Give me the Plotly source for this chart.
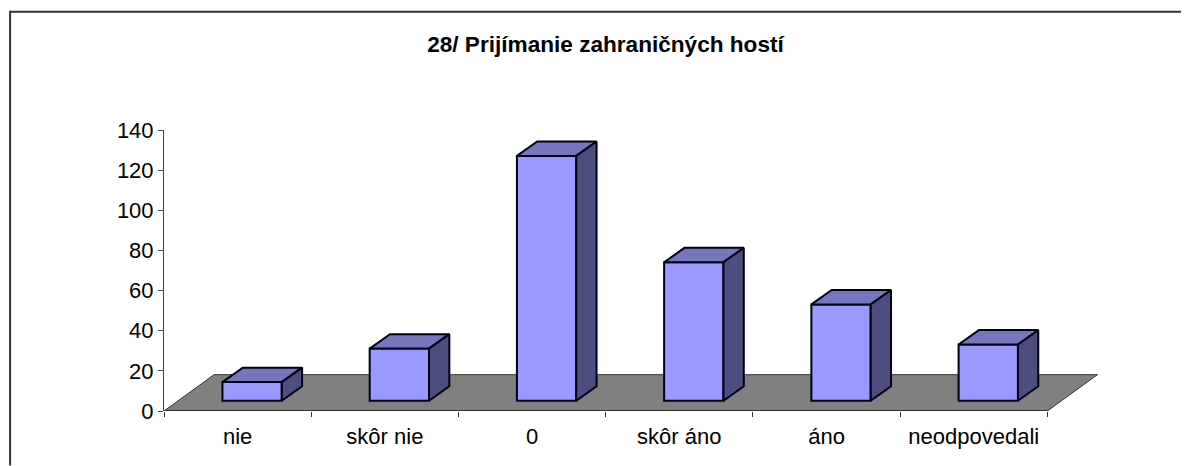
import plotly.graph_objects as go

categories = ["nie", "skôr nie", "0", "skôr áno", "áno", "neodpovedali"]
values = [9.3, 26, 122, 69, 48, 28]
y_ticks = [0, 20, 40, 60, 80, 100, 120, 140]
title = "28/ Prijímanie zahraničných hostí"

# the page body keeps an 8px margin, so everything is placed relative to (8, 8)
PAGE = 8
W, H = 1189 - PAGE, 466 - PAGE
LEFT, RIGHT, TOP, BOTTOM = 163.5 - PAGE, 1121.1 - PAGE, 130 - PAGE, 411.5 - PAGE
X_MAX = 6.5
Y_MAX = 140

FLOOR_DX, FLOOR_DY = 0.34, 18.1
BAR_LEFT, BAR_W = 0.397, 0.403
BAR_LIFT = 5.1
BAR_DX, BAR_DY = 0.138, 7.2

FRONT, TOP_C, SIDE, FLOOR = "#9999FF", "#7676BF", "#4D4D80", "#808080"
LINE = "#000014"
FONT = "Liberation Sans, Arial, sans-serif"

fig = go.Figure()

# front faces
fig.add_trace(go.Bar(
    x=[i + BAR_LEFT + BAR_W / 2 for i in range(len(values))],
    y=values, base=BAR_LIFT, width=BAR_W,
    marker=dict(color=FRONT, line=dict(color=LINE, width=2)),
    showlegend=False, hoverinfo="skip"))

def poly(xs, ys, color):
    fig.add_trace(go.Scatter(x=xs, y=ys, mode="lines", fill="toself", fillcolor=color,
                             line=dict(color=LINE, width=2), showlegend=False, hoverinfo="skip"))

for i, v in enumerate(values):
    x0 = i + BAR_LEFT
    x1 = x0 + BAR_W
    y0 = BAR_LIFT
    y1 = BAR_LIFT + v
    poly([x0, x1, x1 + BAR_DX, x0 + BAR_DX, x0], [y1, y1, y1 + BAR_DY, y1 + BAR_DY, y1], TOP_C)
    poly([x1, x1 + BAR_DX, x1 + BAR_DX, x1, x1], [y0, y0 + BAR_DY, y1 + BAR_DY, y1, y0], SIDE)

n = len(categories)
fx = 9.5 - PAGE - LEFT
fxp = fx / (RIGHT - LEFT)
fig.update_layout(
    width=W, height=H, autosize=False,
    paper_bgcolor="white", plot_bgcolor="rgba(0,0,0,0)",
    margin=dict(l=LEFT, r=W - RIGHT, t=TOP, b=H - BOTTOM, pad=0),
    font=dict(family=FONT, color="#000000"),
    title=dict(text=f"<b>{title}</b>", x=(605.5 - PAGE) / W, xanchor="center",
               y=1 - (44.5 - PAGE) / H, yanchor="middle",
               font=dict(size=22.6, family=FONT, color="#000000")),
    xaxis=dict(range=[0, X_MAX], tickmode="array",
               tickvals=[i + 0.5 for i in range(n)], ticktext=categories,
               ticks="", showgrid=False, zeroline=False, showline=False,
               tickfont=dict(size=22, family=FONT, color="#000000"),
               ticklabelstandoff=10,
               minor=dict(tickmode="array", tickvals=list(range(n + 1)), ticks="outside",
                          ticklen=5, tickcolor="#333333", tickwidth=1, showgrid=False)),
    yaxis=dict(range=[0, Y_MAX], tickmode="array", tickvals=y_ticks,
               ticks="outside", ticklen=5, tickcolor="#444444", tickwidth=1,
               showgrid=False, zeroline=False, showline=True, linecolor="#444444", linewidth=1,
               tickfont=dict(size=22, family=FONT, color="#000000")),
    shapes=[
        # floor, below the bars
        dict(type="path", layer="below", xref="x", yref="y",
             path=f"M 0 0 L {n} 0 L {n + FLOOR_DX} {FLOOR_DY} L {FLOOR_DX} {FLOOR_DY} Z",
             fillcolor=FLOOR, line=dict(color="#333333", width=1)),
        # front edge of the floor
        dict(type="line", layer="below", xref="x", yref="y", x0=0, x1=n, y0=0, y1=0,
             line=dict(color="#333333", width=2)),
        # chart frame: left and top edges only
        dict(type="path", xref="paper", yref="paper", layer="above",
             path=f"M {fxp} {(BOTTOM - H) / (BOTTOM - TOP)} "
                  f"L {fxp} {(BOTTOM - (11.5 - PAGE)) / (BOTTOM - TOP)} "
                  f"L {(W - LEFT) / (RIGHT - LEFT)} {(BOTTOM - (11.5 - PAGE)) / (BOTTOM - TOP)}",
             line=dict(color="#333333", width=2)),
    ],
)

fig.write_html("out.html")
